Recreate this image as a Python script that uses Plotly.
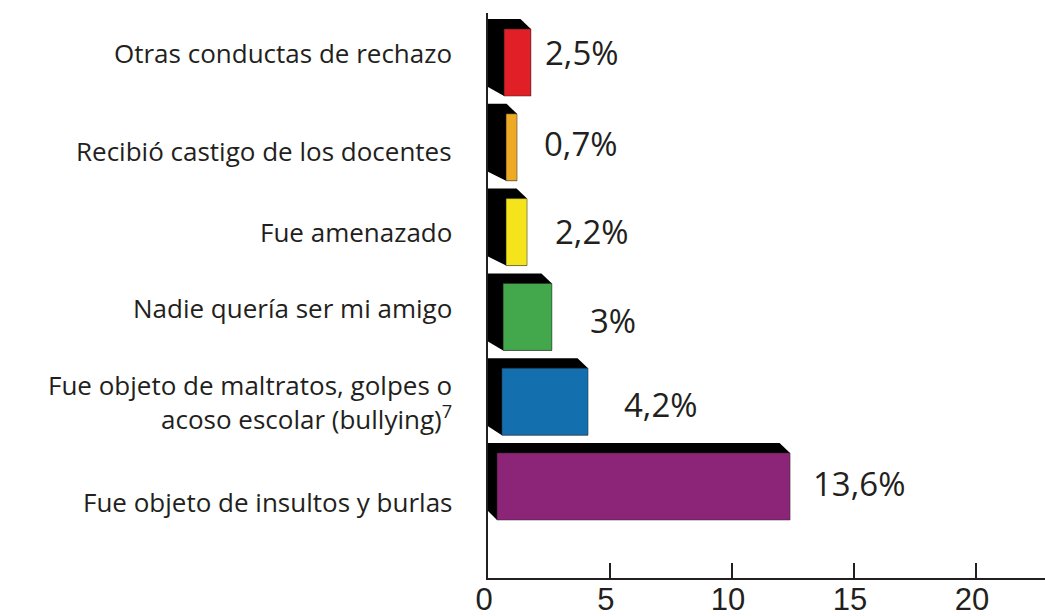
import plotly.graph_objects as go

# ---- data (bottom to top) ----
categories = [
    "Fue objeto de insultos y burlas",
    "Fue objeto de maltratos, golpes o<br>acoso escolar (bullying)<sup>7</sup>",
    "Nadie quería ser mi amigo",
    "Fue amenazado",
    "Recibió castigo de los docentes",
    "Otras conductas de rechazo",
]
value_labels = ["13,6%", "4,2%", "3%", "2,2%", "0,7%", "2,5%"]
bar_lengths = [12.38, 4.10, 2.62, 1.60, 1.19, 1.76]   # drawn lengths
colors = ["#8c2478", "#146faf", "#43a84b", "#f5e41c", "#eeaa25", "#e01f26"]
x_ticks = [0, 5, 10, 15, 20]

# ---- style / layout tweaks ----
TEXT = "#231f20"
W, H = 1045, 616
ML, MR, MT, MB = 488, 0, 13, 38
XMAX = 22.83
YMIN, YMAX = -1.079, 5.584
front_start = [0.37, 0.57, 0.62, 0.74, 0.74, 0.66]
bar_w = 0.79
depth_x = 0.43      # data units
depth_y = 0.118
val_xshift = [21, 34, 36, 26, 25, 12]
val_yshift = [3, -3, -4, 1, 4, 10]
cat_yshift = [-15, 0, 9, 0, -4, 10]

pos = list(range(len(categories)))

fig = go.Figure()

shapes = []
for i, (L, x0) in enumerate(zip(bar_lengths, front_start)):
    yc = pos[i]
    ft = yc + bar_w / 2
    fb = yc - bar_w / 2
    bt = ft + depth_y
    bb = fb + depth_y * 0.9
    path = (f"M 0 {bt} L {L - depth_x} {bt} L {L} {ft} L {L} {fb} "
            f"L {x0} {fb} L 0 {bb} Z")
    shapes.append(dict(type="path", path=path, xref="x", yref="y",
                       fillcolor="#000000", line=dict(width=0), layer="below"))

fig.add_trace(go.Bar(
    y=pos,
    x=[L - s for L, s in zip(bar_lengths, front_start)],
    base=front_start,
    orientation="h",
    width=bar_w,
    marker=dict(color=colors, line=dict(color="rgba(40,40,40,0.6)", width=0.8)),
    hoverinfo="skip",
    showlegend=False,
))

annotations = []
for i, txt in enumerate(categories):
    annotations.append(dict(
        x=0, xref="paper", xshift=-34, xanchor="right",
        y=pos[i], yref="y", yshift=cat_yshift[i], yanchor="middle",
        text=txt, showarrow=False, align="right",
        font=dict(family="Open Sans", size=26, color=TEXT),
    ))
for i, txt in enumerate(value_labels):
    annotations.append(dict(
        x=bar_lengths[i], xref="x", xshift=val_xshift[i], xanchor="left",
        y=pos[i], yref="y", yshift=val_yshift[i], yanchor="middle",
        text=txt, showarrow=False,
        font=dict(family="Open Sans", size=33, color=TEXT),
    ))

fig.update_layout(
    width=W, height=H,
    margin=dict(l=ML, r=MR, t=MT, b=MB, autoexpand=False),
    paper_bgcolor="white", plot_bgcolor="white",
    shapes=shapes, annotations=annotations,
    bargap=0,
    xaxis=dict(range=[0, XMAX], tickvals=x_ticks, ticks="inside", ticklen=15,
               tickwidth=2, tickcolor=TEXT, showline=True, linewidth=2,
               linecolor=TEXT, showgrid=False, zeroline=False,
               tickfont=dict(family="Liberation Sans", size=31, color=TEXT),
               ticklabelstandoff=-7, ticklabelshift=-4,
               automargin=False, fixedrange=True),
    yaxis=dict(range=[YMIN, YMAX], showticklabels=False, ticks="",
               showline=True, linewidth=2, linecolor=TEXT, showgrid=False,
               zeroline=False, automargin=False, fixedrange=True),
)

fig.write_html("out.html",
               config={"displayModeBar": False, "staticPlot": True},
               post_script="document.body.style.margin='0';document.body.style.overflow='hidden';")
